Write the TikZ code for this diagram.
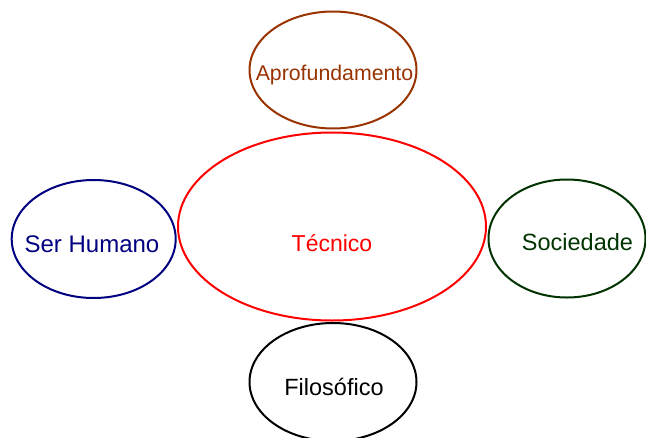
\documentclass[tikz,border=0pt]{standalone}
\usepackage{fontspec}
\setmainfont{Liberation Sans}
\usepackage{xcolor}
\usetikzlibrary{shapes.geometric}
\definecolor{marrom}{RGB}{153,51,0}
\definecolor{azul}{RGB}{0,0,128}
\definecolor{verde}{RGB}{0,51,0}
\tikzset{
  bolha/.style = {ellipse, draw, line width=2pt, inner sep=0pt},
  rotulo/.style = {font=\fontsize{23.5}{27}\selectfont, anchor=base, inner sep=0pt}
}

\begin{document}
\begin{tikzpicture}[x=1pt, y=-1pt]
		\useasboundingbox (0,0) rectangle (646,437);
		% elipses
		\node [bolha, draw=red, minimum width=308pt, minimum height=188pt] (tecnico) at (332,226.5) {};
		\node [bolha, draw=marrom, minimum width=167pt, minimum height=117pt] (aprof) at (333,70) {};
		\node [bolha, draw=azul, minimum width=164pt, minimum height=118pt] (humano) at (93.7,239) {};
		\node [bolha, draw=verde, minimum width=157pt, minimum height=118pt] (sociedade) at (567,238.5) {};
		\node [bolha, draw=black, minimum width=167pt, minimum height=118pt] (filos) at (333,382) {};
		% textos
		\node [rotulo, red, font=\fontsize{23}{27}\selectfont] (tecnicotxt) at (332,251) {Técnico};
		\node [rotulo, marrom, font=\fontsize{21.3}{25}\selectfont] (aproftxt) at (334.5,80) {Aprofundamento};
		\node [rotulo, azul, font=\fontsize{24}{27}\selectfont] (humanotxt) at (92,252) {Ser Humano};
		\node [rotulo, verde] (sociedadetxt) at (577.5,250) {Sociedade};
		\node [rotulo, black] (filostxt) at (334,395) {Filosófico};
	\end{tikzpicture}
\end{document}
